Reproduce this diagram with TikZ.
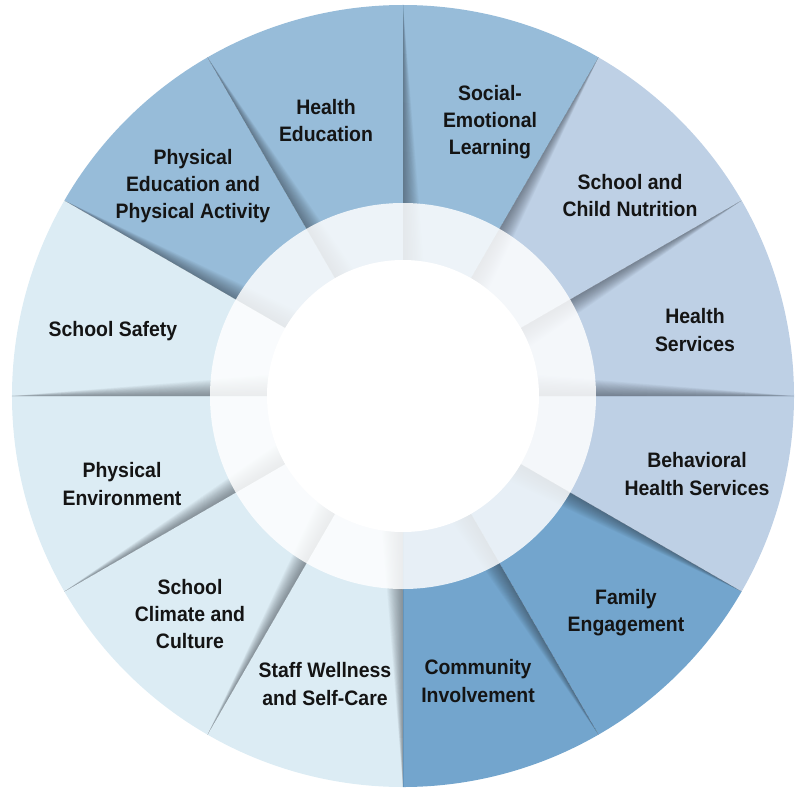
\documentclass[tikz,border=0pt]{standalone}
\usepackage{fontspec}
\setmainfont{Liberation Sans}[FakeStretch=0.93]
\definecolor{midblue}{HTML}{97BCD9}
\definecolor{greyblue}{HTML}{BED0E5}
\definecolor{darkblue}{HTML}{73A5CD}
\definecolor{paleblue}{HTML}{DCECF4}
\definecolor{areaink}{HTML}{141414}
\definecolor{foldgrey}{HTML}{2A3038}
\tikzset{
    areatext/.style={align=center, text=areaink, inner sep=0pt,
        font=\bfseries\fontsize{11.9}{15.4}\selectfont},
    fold/.style={fill=foldgrey, opacity=0.035}
}
\begin{document}
\begin{tikzpicture}[scale=0.02]
            \useasboundingbox (-403,-394) rectangle (396,396);
            % wheel segments, 30 degrees each
            \foreach \a/\c in {0/greyblue,30/greyblue,60/midblue,90/midblue,120/midblue,150/paleblue,
                               180/paleblue,210/paleblue,240/paleblue,270/darkblue,300/darkblue,330/greyblue}
                \fill[\c] (0,0) -- (\a:391) arc[start angle=\a, end angle=\a+30, radius=391] -- cycle;
            % shadows along the edges
            \foreach \b/\s in {90/-1,60/-1,30/-1,0/1,-30/-1,-60/-1,-90/-1,-120/-1,-150/-1,180/-1,150/-1,120/-1}
                \foreach \k in {1,...,16}
                    \fill[fold] (\b:136) -- (\b:391) -- (\b+\s*\k*0.55:136) -- cycle;
            % inner band and centre
            \fill[white, opacity=0.83] (0,0) circle (193);
            \fill[white] (0,0) circle (136);

            \node[areatext] (healthedu) at (-77,275) {Health\\Education};
            \node[areatext] (sel) at (87,274) {Social-\\Emotional\\Learning};
            \node[areatext] (nutrition) at (227,200) {School and\\Child Nutrition};
            \node[areatext] (healthsrv) at (292,66) {Health\\Services};
            \node[areatext] (behavioral) at (294,-78) {Behavioral\\Health Services};
            \node[areatext] (family) at (223,-217) {Family\\Engagement};
            \node[areatext] (community) at (75,-285) {Community\\Involvement};
            \node[areatext] (staff) at (-78,-288) {Staff Wellness\\and Self-Care};
            \node[areatext] (climate) at (-213,-218) {School\\Climate and\\Culture};
            \node[areatext] (environ) at (-281,-88) {Physical\\Environment};
            \node[areatext] (safety) at (-290,65) {School Safety};
            \node[areatext] (physedu) at (-210,210) {Physical\\Education and\\Physical Activity};
        \end{tikzpicture}
\end{document}
